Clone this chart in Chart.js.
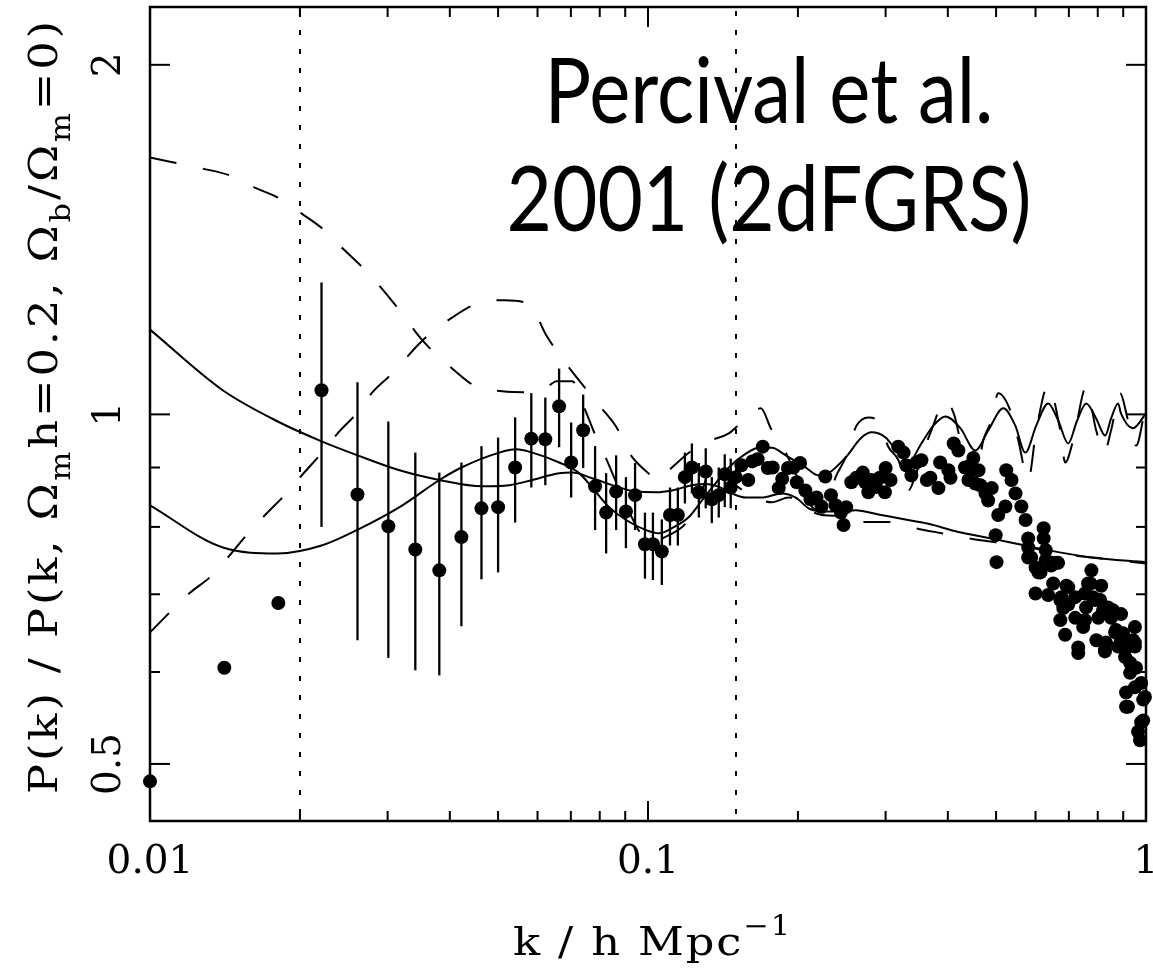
<!DOCTYPE html>
<html lang="en">
<head>
<meta charset="UTF-8">
<title>Percival et al. 2001 (2dFGRS)</title>
<script src="https://cdn.jsdelivr.net/npm/chart.js@4.4.1/dist/chart.umd.min.js"></script>
<style>
  html, body { margin: 0; padding: 0; background: #fff; }
  #wrap { width: 1153px; height: 975px; position: relative; }
</style>
</head>
<body>
<div id="wrap"><canvas id="grafico"></canvas></div>
<script>
// binned power, k < 0.15 (error bars)
const kBins = [0.0100, 0.0141, 0.0181, 0.0221, 0.0261, 0.0301, 0.0341, 0.0381, 0.0422, 0.0463, 0.0500, 0.0541, 0.0583, 0.0622, 0.0663, 0.0701, 0.0741, 0.0783, 0.0824, 0.0863, 0.0903, 0.0942, 0.0986, 0.1023, 0.1066, 0.1107, 0.1148, 0.1186, 0.1225, 0.1265, 0.1306, 0.1343, 0.1387, 0.1426, 0.1466, 0.1500];
const pBins = [0.483, 0.605, 0.688, 1.049, 0.853, 0.801, 0.765, 0.734, 0.784, 0.830, 0.832, 0.900, 0.953, 0.952, 1.016, 0.909, 0.969, 0.867, 0.823, 0.858, 0.825, 0.852, 0.773, 0.773, 0.762, 0.819, 0.819, 0.883, 0.900, 0.857, 0.893, 0.845, 0.852, 0.888, 0.865, 0.883];
const pBinsLow = [null, null, null, 0.800, 0.639, 0.617, 0.602, 0.596, 0.657, 0.721, 0.731, 0.807, 0.865, 0.869, 0.937, 0.848, 0.899, 0.795, 0.759, 0.795, 0.767, 0.795, 0.722, 0.720, 0.713, 0.771, 0.771, 0.838, 0.855, 0.815, 0.830, 0.806, 0.815, 0.832, 0.830, null];
const pBinsHigh = [null, null, null, 1.299, 1.066, 0.986, 0.927, 0.891, 0.909, 0.939, 0.955, 0.994, 1.043, 1.034, 1.095, 0.984, 1.040, 0.939, 0.890, 0.922, 0.883, 0.908, 0.823, 0.823, 0.812, 0.865, 0.865, 0.927, 0.944, 0.908, 0.935, 0.883, 0.900, 0.924, 0.916, null];

// fine points, k > 0.15
const kFine = [0.154, 0.159, 0.162, 0.166, 0.170, 0.174, 0.178, 0.183, 0.186, 0.191, 0.196, 0.199, 0.202, 0.207, 0.212, 0.218, 0.223, 0.227, 0.233, 0.238, 0.244, 0.247, 0.250, 0.256, 0.262, 0.270, 0.273, 0.277, 0.281, 0.287, 0.292, 0.299, 0.300, 0.307, 0.318, 0.326, 0.330, 0.338, 0.346, 0.354, 0.363, 0.369, 0.383, 0.386, 0.401, 0.405, 0.411, 0.420, 0.433, 0.440, 0.447, 0.450, 0.454, 0.461, 0.465, 0.476, 0.482, 0.490, 0.499, 0.501, 0.505, 0.522, 0.524, 0.537, 0.547, 0.562, 0.573, 0.580, 0.588, 0.600, 0.600, 0.614, 0.623, 0.623, 0.629, 0.629, 0.636, 0.645, 0.651, 0.666, 0.673, 0.676, 0.688, 0.698, 0.698, 0.721, 0.731, 0.731, 0.748, 0.758, 0.773, 0.777, 0.791, 0.795, 0.802, 0.813, 0.827, 0.831, 0.839, 0.851, 0.871, 0.891, 0.891, 0.908, 0.912, 0.912, 0.929, 0.929, 0.950, 0.950, 0.964, 0.973, 0.978, 0.987, 0.987,
    0.580, 0.580, 0.608, 0.645, 0.660, 0.692, 0.673, 0.721, 0.682, 0.754, 0.765, 0.754, 0.782, 0.809, 0.820, 0.859, 0.867, 0.899, 0.827, 0.879, 0.908, 0.942, 0.950, 0.955, 0.950, 0.920, 0.978, 0.995];
const pFine = [0.904, 0.878, 0.911, 0.915, 0.938, 0.899, 0.900, 0.864, 0.880, 0.899, 0.900, 0.874, 0.908, 0.860, 0.845, 0.848, 0.833, 0.884, 0.852, 0.835, 0.823, 0.803, 0.832, 0.874, 0.882, 0.891, 0.874, 0.857, 0.878, 0.866, 0.882, 0.857, 0.899, 0.878, 0.938, 0.927, 0.904, 0.886, 0.909, 0.913, 0.878, 0.882, 0.864, 0.909, 0.895, 0.882, 0.944, 0.931, 0.900, 0.878, 0.895, 0.917, 0.872, 0.895, 0.869, 0.855, 0.843, 0.864, 0.787, 0.746, 0.819, 0.833, 0.895, 0.878, 0.855, 0.833, 0.811, 0.768, 0.753, 0.738, 0.701, 0.731, 0.798, 0.782, 0.764, 0.749, 0.699, 0.745, 0.715, 0.745, 0.665, 0.696, 0.646, 0.710, 0.686, 0.668, 0.630, 0.623, 0.656, 0.682, 0.715, 0.734, 0.692, 0.639, 0.668, 0.712, 0.625, 0.636, 0.682, 0.668, 0.652, 0.673, 0.639, 0.618, 0.576, 0.560, 0.611, 0.599, 0.656, 0.636, 0.533, 0.524, 0.587, 0.568, 0.545,
    0.782, 0.753, 0.731, 0.741, 0.745, 0.712, 0.692, 0.696, 0.681, 0.665, 0.715, 0.701, 0.696, 0.692, 0.678, 0.678, 0.649, 0.648, 0.627, 0.631, 0.627, 0.639, 0.631, 0.605, 0.582, 0.560, 0.543, 0.571];

// models, convolved (solid)
const kSolidA = [0.01, 0.0140, 0.01805, 0.02211, 0.02611, 0.0317, 0.03813, 0.0465, 0.05267, 0.05856, 0.06633, 0.07043, 0.07724, 0.08627, 0.0946, 0.1038, 0.1117, 0.1225, 0.1307, 0.1388, 0.1473, 0.1572, 0.1692, 0.1856, 0.198, 0.2102, 0.2232, 0.2414, 0.2611, 0.2903, 0.3228, 0.3657, 0.42, 0.4891, 0.5721, 0.6663, 0.776, 1.0];
const pSolidA = [1.183, 1.049, 0.986, 0.948, 0.922, 0.895, 0.878, 0.867, 0.869, 0.878, 0.890, 0.891, 0.881, 0.867, 0.858, 0.857, 0.860, 0.869, 0.871, 0.866, 0.855, 0.848, 0.848, 0.855, 0.848, 0.830, 0.825, 0.825, 0.827, 0.820, 0.813, 0.805, 0.792, 0.782, 0.771, 0.761, 0.753, 0.746];
const kSolidB = [0.01, 0.0140, 0.01805, 0.02211, 0.02603, 0.0317, 0.03813, 0.04221, 0.05029, 0.0544, 0.05856, 0.06633, 0.07274, 0.07724, 0.08354, 0.09034, 0.09908, 0.1052, 0.1117, 0.1208, 0.1283, 0.1369, 0.1453, 0.1572, 0.1669, 0.1772, 0.189, 0.2073, 0.2201, 0.2305, 0.2493, 0.2684, 0.2812, 0.2999, 0.3184, 0.3334, 0.354, 0.3742, 0.3956, 0.4239, 0.4543, 0.4824, 0.5169, 0.5464, 0.5722, 0.602, 0.6363, 0.6663, 0.6979, 0.7274, 0.7583, 0.7941, 0.8279, 0.851, 0.879, 0.8907, 0.9419, 1.0];
const pSolidB = [0.835, 0.768, 0.759, 0.771, 0.795, 0.832, 0.878, 0.900, 0.927, 0.933, 0.927, 0.909, 0.890, 0.865, 0.832, 0.811, 0.795, 0.790, 0.798, 0.816, 0.843, 0.873, 0.900, 0.925, 0.936, 0.936, 0.922, 0.900, 0.886, 0.890, 0.918, 0.955, 0.965, 0.955, 0.925, 0.909, 0.944, 0.978, 0.996, 0.973, 0.931, 0.969, 1.012, 0.978, 0.927, 0.978, 1.022, 0.988, 0.944, 0.988, 1.022, 0.992, 0.959, 0.992, 1.022, 1.002, 0.973, 1.002];

// models, unconvolved (dashed)
const kDashA = [0.01, 0.01277, 0.01447, 0.01623, 0.01822, 0.02017, 0.02243, 0.02436, 0.02672, 0.02918, 0.0317, 0.03525, 0.04086, 0.04544, 0.05099, 0.05776, 0.06334, 0.06543, 0.07043, 0.07444, 0.07796, 0.0824, 0.08953, 0.09727, 0.1028, 0.1102, 0.1192, 0.1265, 0.1356, 0.1453, 0.1594, 0.1772, 0.1917, 0.2073, 0.2171, 0.2359, 0.2563, 0.2684, 0.3041, 0.3444, 0.3883, 0.4398, 0.4983, 0.5617, 0.6663, 0.8015, 1.0];
const pDashA = [1.664, 1.628, 1.606, 1.568, 1.534, 1.489, 1.440, 1.390, 1.338, 1.284, 1.229, 1.158, 1.091, 1.055, 1.047, 1.045, 1.059, 1.068, 1.068, 1.014, 0.965, 0.916, 0.843, 0.787, 0.779, 0.787, 0.806, 0.843, 0.909, 0.878, 0.855, 0.840, 0.848, 0.838, 0.822, 0.818, 0.823, 0.808, 0.808, 0.798, 0.790, 0.782, 0.776, 0.771, 0.759, 0.752, 0.744];
const kDashB = [0.01, 0.01203, 0.01319, 0.01434, 0.0155, 0.01716, 0.01864, 0.02017, 0.02211, 0.02381, 0.02611, 0.02798, 0.03069, 0.03525, 0.04048, 0.04544, 0.05146, 0.05776, 0.06247, 0.06725, 0.07977, 0.08667, 0.09161, 0.0995, 0.1052, 0.1117, 0.1225, 0.1338, 0.1453, 0.1594, 0.1685, 0.1764, 0.189, 0.2007, 0.2122, 0.2252, 0.2381, 0.2493, 0.2623, 0.2773, 0.2903, 0.3041, 0.3184, 0.3334, 0.346, 0.354, 0.3708, 0.3956, 0.4123, 0.4239, 0.4543, 0.4713, 0.4891, 0.5051, 0.5339, 0.554, 0.5802, 0.602, 0.6363, 0.6725, 0.6883, 0.7142, 0.7583, 0.7941, 0.824, 0.851, 0.8872, 0.9204, 0.955, 1.0];
const pDashB = [0.649, 0.702, 0.724, 0.753, 0.784, 0.822, 0.852, 0.886, 0.926, 0.963, 1.004, 1.045, 1.085, 1.158, 1.212, 1.246, 1.254, 1.244, 1.170, 1.117, 1.018, 0.973, 0.927, 0.892, 0.878, 0.900, 0.931, 0.950, 0.963, 0.998, 1.012, 0.973, 0.927, 0.878, 0.835, 0.823, 0.883, 0.918, 0.978, 0.994, 0.984, 0.937, 0.913, 0.860, 0.891, 0.918, 0.969, 1.028, 0.998, 0.950, 0.878, 0.950, 0.988, 1.043, 1.008, 0.950, 0.878, 0.969, 1.059, 0.969, 0.909, 0.950, 1.055, 0.969, 0.927, 0.969, 1.043, 0.988, 0.940, 1.022];

// axes
const xMajor = [0.01, 0.1, 1];
const xMajorLabels = ['0.01', '0.1', '1'];
const xMinor = [0.02, 0.03, 0.04, 0.05, 0.06, 0.07, 0.08, 0.09, 0.2, 0.3, 0.4, 0.5, 0.6, 0.7, 0.8, 0.9];
const yMajor = [0.5, 1, 2];
const yMajorLabels = ['0.5', '1', '2'];
const yMinor = [0.6, 0.7, 0.8, 0.9];
const kMarks = [0.02, 0.15];
const titleLines = ['Percival et al.', '2001 (2dFGRS)'];

const serif = '"DejaVu Serif", "Liberation Serif", serif';

function pares(ks, ps) {
    return ks.map((k, i) => ({ x: k, y: ps[i] }));
}

// text drawn glyph by glyph: glyphs widened by "estica", rest of the length spread as gaps
function textoEspacado(ctx, partes, x0, y0, largura, tam, estica) {
    const glifos = [];
    let natural = 0;
    partes.forEach(([txt, nivel]) => {
        const fs = nivel === 0 ? tam : tam * 0.68;
        const dy = nivel === 0 ? 0 : (nivel < 0 ? tam * 0.32 : -tam * 0.5);
        ctx.font = fs + 'px ' + serif;
        for (const ch of txt) {
            const w = ctx.measureText(ch).width * estica;
            glifos.push({ ch, fs, dy, w });
            natural += w;
        }
    });
    const folga = (largura - natural) / (glifos.length - 1);
    let x = x0;
    glifos.forEach(g => {
        ctx.font = g.fs + 'px ' + serif;
        ctx.save();
        ctx.translate(x, y0 + g.dy);
        ctx.scale(estica, 1);
        ctx.fillText(g.ch, 0, 0);
        ctx.restore();
        x += g.w + folga;
    });
}

const barrasErro = {
    id: 'barrasErro',
    beforeDatasetsDraw(chart) {
        const { ctx, chartArea: a, scales: { x, y } } = chart;
        ctx.save();
        ctx.strokeStyle = '#000';
        // dotted verticals
        ctx.lineWidth = 2;
        ctx.setLineDash([5, 14]);
        kMarks.forEach(k => {
            const px = Math.round(x.getPixelForValue(k));
            ctx.beginPath();
            ctx.moveTo(px, a.top + 4);
            ctx.lineTo(px, a.bottom);
            ctx.stroke();
        });
        ctx.setLineDash([]);
        ctx.lineWidth = 2.3;
        kBins.forEach((k, i) => {
            if (pBinsLow[i] == null) return;
            const px = x.getPixelForValue(k);
            ctx.beginPath();
            ctx.moveTo(px, y.getPixelForValue(pBinsLow[i]));
            ctx.lineTo(px, y.getPixelForValue(pBinsHigh[i]));
            ctx.stroke();
        });
        ctx.restore();
    }
};

const moldura = {
    id: 'moldura',
    afterDatasetsDraw(chart) {
        const { ctx, chartArea: a, scales: { x, y } } = chart;
        ctx.save();
        ctx.strokeStyle = '#000';
        ctx.lineWidth = 2.5;
        ctx.strokeRect(a.left, a.top, a.right - a.left, a.bottom - a.top);
        ctx.lineWidth = 2;
        const risco = (x1, y1, x2, y2) => {
            ctx.beginPath();
            ctx.moveTo(x1, y1);
            ctx.lineTo(x2, y2);
            ctx.stroke();
        };
        xMajor.concat(xMinor).forEach(v => {
            const len = xMajor.includes(v) ? 20 : 10;
            const px = x.getPixelForValue(v);
            risco(px, a.bottom, px, a.bottom - len);
            risco(px, a.top, px, a.top + len);
        });
        yMajor.concat(yMinor).forEach(v => {
            const len = yMajor.includes(v) ? 20 : 10;
            const py = y.getPixelForValue(v);
            risco(a.left, py, a.left + len, py);
            risco(a.right, py, a.right - len, py);
        });
        ctx.restore();
    },
    afterDraw(chart) {
        const { ctx, scales: { x, y } } = chart;
        ctx.save();
        ctx.fillStyle = '#000';

        // tick labels
        ctx.font = '39px ' + serif;
        ctx.textAlign = 'center';
        ctx.textBaseline = 'alphabetic';
        xMajor.forEach((v, i) => ctx.fillText(xMajorLabels[i], x.getPixelForValue(v), 873));
        yMajor.forEach((v, i) => {
            ctx.save();
            ctx.translate(120, y.getPixelForValue(v));
            ctx.rotate(-Math.PI / 2);
            ctx.fillText(yMajorLabels[i], 0, 0);
            ctx.restore();
        });

        // axis titles
        ctx.textAlign = 'left';
        textoEspacado(ctx, [['k / h Mpc', 0], ['\u22121', 1]], 513, 955, 277, 40, 1.12);
        ctx.save();
        ctx.translate(57, 408);
        ctx.rotate(-Math.PI / 2);
        textoEspacado(ctx, [
            ['P(k) / P(k, \u03A9', 0], ['m', -1], ['h=0.2, \u03A9', 0], ['b', -1],
            ['/\u03A9', 0], ['m', -1], ['=0)', 0]
        ], -386, 0, 773, 40, 1.12);
        ctx.restore();

        // annotation
        ctx.font = '91px Lato, "Open Sans", sans-serif';
        ctx.textAlign = 'center';
        const larguras = [449, 525];
        const bases = [123, 231];
        titleLines.forEach((linha, i) => {
            const w = ctx.measureText(linha).width;
            ctx.save();
            ctx.translate(769, bases[i]);
            ctx.scale(larguras[i] / w, 1);
            ctx.fillText(linha, 0, 0);
            ctx.restore();
        });
        ctx.restore();
    }
};

const curva = (ks, ps, tracejado) => ({
    data: pares(ks, ps),
    showLine: true,
    pointRadius: 0,
    borderColor: '#000',
    borderWidth: 2,
    borderDash: tracejado ? [27, 27] : [],
    cubicInterpolationMode: 'monotone',
    fill: false
});

new Chart(document.getElementById('grafico'), {
    type: 'scatter',
    data: {
        datasets: [
            {
                data: pares(kBins, pBins).concat(pares(kFine, pFine)),
                pointRadius: 7,
                pointBorderWidth: 0,
                backgroundColor: '#000',
                borderColor: '#000',
                clip: 10
            },
            curva(kSolidA, pSolidA, false),
            curva(kSolidB, pSolidB, false),
            curva(kDashA, pDashA, true),
            curva(kDashB, pDashB, true)
        ]
    },
    options: {
        responsive: true,
        maintainAspectRatio: false,
        devicePixelRatio: 1,
        animation: false,
        events: [],
        layout: { padding: { left: 150, top: 7, right: 5, bottom: 154 } },
        plugins: { legend: { display: false }, tooltip: { enabled: false } },
        scales: {
            x: { type: 'logarithmic', min: 0.01, max: 1, display: false },
            y: { type: 'logarithmic', min: 0.4465, max: 2.243, display: false }
        }
    },
    plugins: [barrasErro, moldura]
});
</script>
</body>
</html>
